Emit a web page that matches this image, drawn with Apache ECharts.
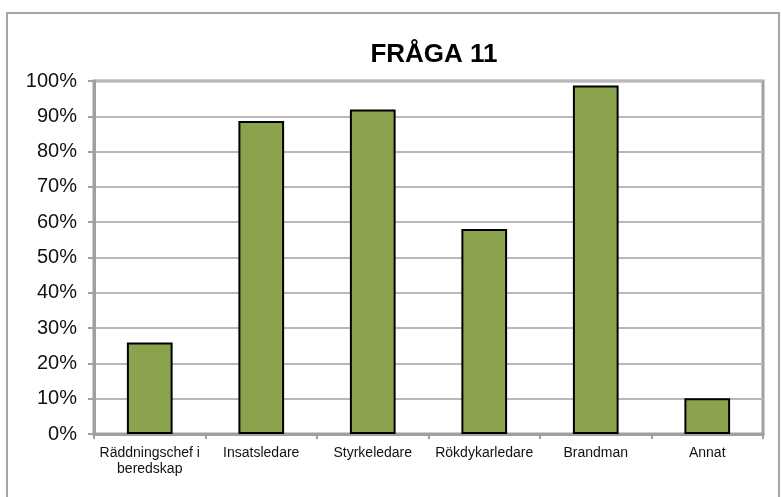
<!DOCTYPE html>
<html>
<head>
<meta charset="utf-8">
<script src="https://cdn.jsdelivr.net/npm/echarts@6/dist/echarts.min.js"></script>
<style>
  html, body { margin: 0; padding: 0; background: #fff; }
  #chart { width: 782px; height: 497px; }
</style>
</head>
<body>
<div id="chart"></div>
<script>
  // Fråga 11 – andel per roll
  var categories = ['Räddningschef i\nberedskap', 'Insatsledare', 'Styrkeledare', 'Rökdykarledare', 'Brandman', 'Annat'];
  var values = [25.9, 88.7, 91.9, 58.1, 98.7, 10.1];

  var chart = echarts.init(document.getElementById('chart'));
  chart.setOption({
    animation: false,
    textStyle: { fontFamily: 'Liberation Sans, Arial, sans-serif' },
    graphic: [{
      type: 'rect',
      shape: { x: 7, y: 13, width: 772, height: 500 },
      style: { fill: 'none', stroke: '#a6a6a6', lineWidth: 2 },
      silent: true
    }],
    title: {
      text: 'FRÅGA 11',
      left: 429,
      top: 37,
      textAlign: 'center',
      textStyle: { fontSize: 26, fontWeight: 'bold', color: '#000', fontFamily: 'Liberation Sans, Arial, sans-serif' }
    },
    grid: {
      left: 94, right: 19, top: 81, bottom: 63,
      show: true, borderColor: '#a0a0a0', borderWidth: 3, backgroundColor: 'transparent'
    },
    xAxis: {
      type: 'category',
      data: categories,
      axisLine: { lineStyle: { color: '#a0a0a0', width: 3 } },
      axisTick: { show: true, alignWithLabel: false, length: 5, lineStyle: { color: '#a0a0a0', width: 2 } },
      axisLabel: { color: '#111', fontSize: 14, margin: 11, lineHeight: 16, interval: 0 }
    },
    yAxis: {
      type: 'value',
      min: 0, max: 100, interval: 10,
      axisLine: { show: true, lineStyle: { color: '#a0a0a0', width: 3 } },
      axisTick: { show: true, length: 6, lineStyle: { color: '#a0a0a0', width: 2 } },
      axisLabel: { color: '#111', fontSize: 20, margin: 17, padding: [4, 0, 0, 0], formatter: '{value}%' },
      splitLine: { lineStyle: { color: '#b8b8b8', width: 2 } }
    },
    series: [{
      type: 'bar',
      data: values,
      barWidth: '41%',
      itemStyle: { color: '#8ba34c', borderColor: '#000', borderWidth: 2 }
    }]
  });
</script>
</body>
</html>
